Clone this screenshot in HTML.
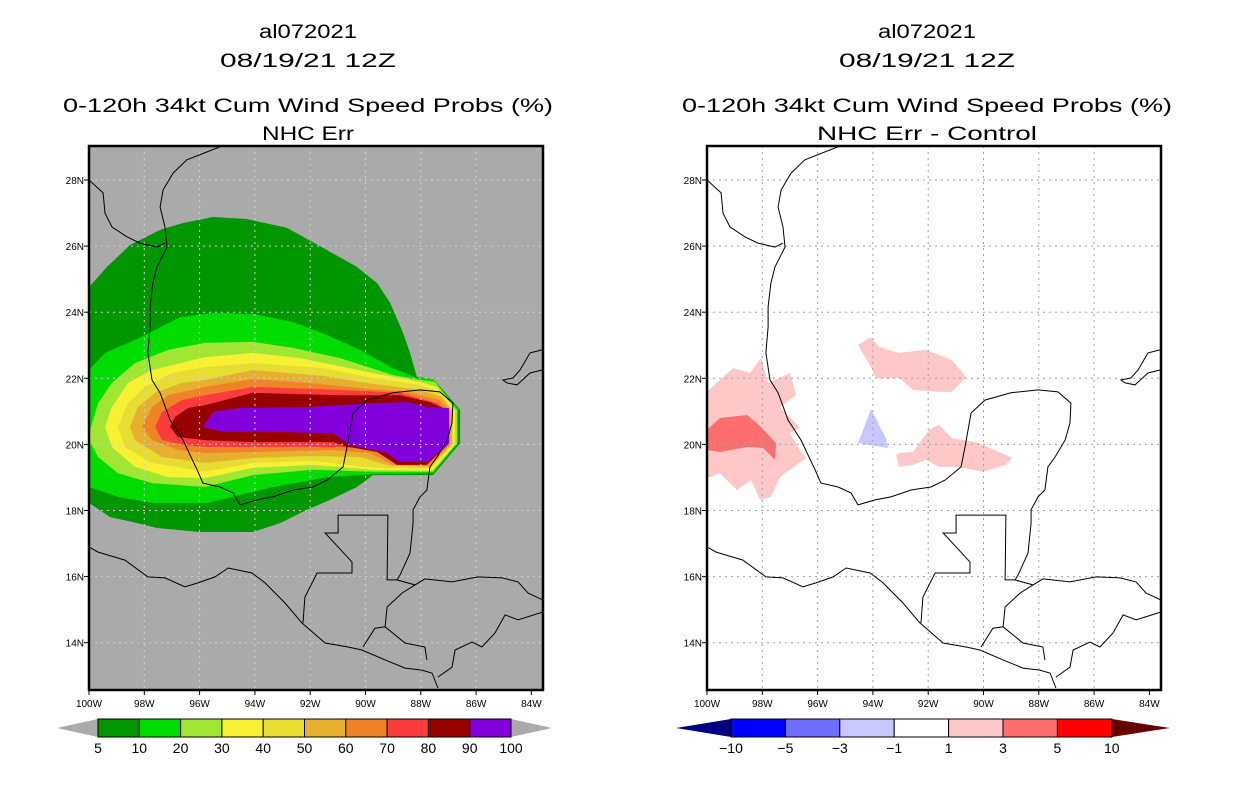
<!DOCTYPE html>
<html><head><meta charset="utf-8"><style>
html,body{margin:0;padding:0;background:#fff;}
svg{display:block;font-family:"Liberation Sans",sans-serif;}
</style></head><body>
<svg id="fig" width="1236" height="800" viewBox="0 0 1236 800" xmlns="http://www.w3.org/2000/svg"></svg>
<script>
// ---- data: probability contour polygons [degW, latN] ----
const probLevels = [5,10,20,30,40,50,60,70,80,90,100];
const probColors = ["#009600","#00dc00","#a0e632","#f8f032","#e6dc32","#e6af2d","#f08228","#fa3c3c","#960000","#8200dc"];
const L5=[[100,24.76],[99.35,25.37],[98.52,26.03],[97.43,26.49],[96.60,26.70],[95.52,26.88],[94.29,26.82],[92.84,26.55],[91.39,25.88],[90.31,25.37],[89.58,24.88],[89.11,24.28],[88.64,23.37],[88.39,22.77],[88.14,22.04],[87.56,21.98],[87.20,21.65],[86.58,21.04],[86.58,20.04],[87.56,19.07],[89.73,19.07],[90.31,18.71],[91.28,18.32],[92.12,18.02],[93.09,17.62],[94.07,17.35],[95.99,17.35],[97.54,17.47],[98.41,17.65],[99.24,17.80],[100,18.23]];
const L10=[[100,22.25],[99.42,22.77],[98.34,23.16],[96.71,23.85],[95.52,23.98],[94.07,23.95],[92.62,23.70],[91.39,23.31],[90.20,22.86],[89.01,22.31],[88.14,22.01],[87.56,21.98],[86.65,21.07],[86.65,20.04],[87.56,19.13],[89.73,19.10],[91.39,19.01],[93.35,18.71],[94.54,18.47],[95.73,18.23],[97.72,18.23],[98.95,18.41],[100,18.71]];
const L20=[[100,20.34],[99.67,21.25],[99.17,21.86],[98.34,22.46],[97.14,22.86],[95.80,23.07],[94.07,23.10],[92.62,22.92],[90.92,22.61],[89.01,22.10],[88.03,21.95],[87.49,21.89],[86.69,21.04],[86.69,20.04],[87.56,19.17],[89.73,19.17],[91.90,19.23],[94.07,19.07],[95.80,18.71],[97.72,18.83],[98.95,19.13],[99.67,19.62],[100,20.13]];
const L30=[[99.42,20.53],[99.17,21.13],[98.59,21.86],[97.72,22.25],[95.80,22.64],[94.07,22.77],[92.37,22.61],[89.73,22.16],[88.03,21.89],[87.41,21.74],[86.76,21.04],[86.76,20.01],[87.59,19.20],[89.73,19.23],[91.90,19.38],[94.07,19.29],[95.80,18.98],[97.14,19.01],[98.34,19.32],[99.17,19.92]];
const L40=[[98.95,20.53],[98.59,21.25],[97.97,21.74],[97.00,22.16],[95.80,22.34],[94.07,22.46],[91.54,22.31],[89.73,22.01],[88.03,21.80],[87.31,21.59],[86.84,21.04],[86.84,20.01],[87.63,19.26],[89.73,19.29],[91.90,19.50],[94.07,19.44],[95.80,19.17],[97.72,19.44],[98.70,19.92]];
const L50=[[98.52,20.53],[98.23,21.13],[97.61,21.56],[96.64,21.86],[95.80,21.95],[94.07,22.25],[91.54,22.07],[89.73,21.83],[88.03,21.65],[87.23,21.43],[86.87,21.01],[86.87,20.01],[87.67,19.32],[89.11,19.35],[90.20,19.62],[91.90,19.65],[94.07,19.59],[95.80,19.44],[97.36,19.62],[98.34,20.13]];
const L60=[[98.08,20.53],[97.72,21.13],[97.14,21.49],[95.80,21.74],[94.07,21.98],[92.12,21.86],[90.31,21.71],[88.50,21.59],[87.31,21.34],[86.94,20.98],[86.94,20.01],[87.70,19.35],[89.01,19.38],[89.84,19.74],[91.18,19.83],[94.07,19.77],[95.80,19.74],[96.78,19.83],[97.72,20.13]];
const L70=[[97.61,20.53],[97.36,20.98],[96.64,21.34],[95.80,21.49],[94.07,21.74],[90.92,21.65],[88.75,21.56],[87.41,21.25],[86.98,20.95],[86.98,20.01],[87.74,19.41],[88.86,19.41],[89.58,19.83],[90.92,19.92],[94.07,19.92],[95.80,19.92],[96.53,19.98],[97.36,20.13]];
const L80=[[97.07,20.53],[96.89,20.83],[96.42,21.10],[95.80,21.19],[94.07,21.56],[90.92,21.49],[88.75,21.49],[87.67,21.28],[87.05,21.04],[87.02,20.01],[87.78,19.38],[88.86,19.38],[89.58,19.77],[90.74,19.95],[91.18,20.07],[94.07,20.07],[95.80,20.13],[96.78,20.22]];
const L90=[[95.88,20.53],[95.52,20.98],[94.54,21.10],[92.12,21.13],[89.73,21.25],[88.50,21.28],[87.78,21.13],[86.98,21.10],[86.98,20.04],[87.78,19.47],[88.82,19.47],[89.22,19.74],[90.56,19.98],[91.18,20.34],[93.35,20.38],[95.15,20.38]];
const probPolys=[L5,L10,L20,L30,L40,L50,L60,L70,L80,L90];
// ---- difference panel ----
const diffLevels=["-10","-5","-3","-1","1","3","5","10"];
const diffColors=["#0000ff","#6e6eff","#c8c8ff","#ffffff","#ffc8c8","#ff6e6e","#ff0000"];
const diffPink1=[[100,21.59],[99.42,22.04],[99.06,22.31],[98.44,22.16],[98.05,22.61],[97.79,21.86],[97.00,22.16],[96.78,21.49],[97.36,21.13],[96.64,20.50],[97.00,20.34],[96.64,19.83],[96.42,19.59],[97.36,19.01],[97.69,18.41],[98.08,18.32],[98.41,18.92],[98.92,18.62],[99.53,19.13],[100,18.98]];
const diffRed1=[[100,20.44],[99.53,20.80],[98.55,20.89],[98.05,20.53],[97.50,20.04],[97.54,19.53],[97.97,19.89],[98.55,19.92],[99.53,19.77],[100,19.83]];
const diffPink2=[[94.54,23.01],[94.07,23.25],[93.78,22.95],[93.06,22.77],[92.08,22.86],[91.14,22.55],[90.63,22.04],[91.14,21.59],[91.61,21.59],[92.55,21.65],[93.06,22.01],[93.89,22.01],[94.07,22.34]];
const diffPink3=[[93.16,19.68],[93.06,19.74],[92.55,19.77],[91.97,20.44],[91.61,20.59],[91.14,20.19],[90.27,20.07],[89.44,19.77],[88.97,19.59],[89.19,19.38],[90.05,19.17],[90.89,19.32],[91.61,19.32],[92.08,19.53],[92.55,19.38],[93.06,19.32]];
const diffBlue1=[[94.07,21.07],[93.53,20.19],[93.45,19.89],[94.54,20.04]];
const diffShapes=[[diffPink1,4],[diffRed1,5],[diffPink2,4],[diffPink3,4],[diffBlue1,2]];
// ---- geography ----
const coast1=[[95.19,29.03],[96.46,28.61],[96.96,28.21],[97.32,27.70],[97.43,27.18],[97.25,26.58],[97.18,25.97],[97.54,25.37],[97.69,24.88],[97.79,24.16],[97.79,23.55],[97.87,22.77],[97.72,21.95],[97.43,21.56],[97.07,20.74],[96.60,20.13],[96.09,19.23],[95.88,18.83],[95.26,18.71],[94.79,18.53],[94.54,18.17],[93.92,18.32],[93.35,18.41],[92.62,18.62],[91.90,18.71],[91.39,18.92],[90.81,19.32],[90.67,19.92],[90.45,20.95],[89.95,21.34],[89.01,21.56],[88.03,21.65],[87.31,21.59],[86.84,21.25],[86.87,20.65],[87.05,20.13],[87.41,19.62],[87.67,19.32],[87.78,18.62],[88.03,18.41],[88.28,18.02],[88.28,17.62],[88.39,16.71],[88.75,16.05],[88.86,15.90],[88.21,15.75],[87.85,15.93],[86.87,15.84],[85.93,15.99],[85.06,15.96],[84.48,15.84],[84.12,15.50],[83.58,15.29]];
const rio=[[100,28],[99.49,27.61],[99.42,27.00],[99.17,26.58],[98.63,26.28],[98.16,26.09],[97.54,25.97],[97.25,26.09]];
const pac=[[100,16.90],[99.67,16.74],[98.70,16.50],[97.87,15.99],[97.25,15.96],[96.53,15.69],[96.06,15.81],[95.44,15.99],[94.97,16.26],[94.10,16.11],[93.63,15.81],[92.91,15.20],[92.30,14.60],[91.46,13.99],[90.63,13.87],[90.13,13.78],[89.29,13.48],[88.57,13.23],[87.96,13.17],[87.59,13.08],[87.38,12.63]];
const gtm=[[92.26,14.60],[92.19,15.38],[91.75,16.11],[90.49,16.11],[90.49,16.44],[90.99,16.90],[91.46,17.32],[90.99,17.32],[90.99,17.86],[89.19,17.86],[89.22,15.90],[88.86,15.90]];
const ghn=[[88.21,15.75],[88.68,15.50],[89.22,15.08],[89.29,14.48],[89.66,14.44],[90.09,13.87]];
const esh=[[89.29,14.48],[88.57,13.99],[87.85,13.87],[87.78,13.48]];
const hni=[[83.58,14.93],[84.48,14.69],[84.95,14.84],[85.32,14.29],[85.79,13.87],[86.15,14.02],[86.76,13.78],[86.87,13.26],[87.38,12.96]];
const cuba=[[83.62,22.86],[84.05,22.77],[84.41,22.25],[84.67,22.01],[85.03,21.95],[84.88,21.86],[84.52,21.80],[84.05,22.16],[83.62,22.25]];
const lines=[coast1,rio,pac,gtm,ghn,esh,hni,cuba];
const latTicks=[28,26,24,22,20,18,16,14];
const lonTicks=[100,98,96,94,92,90,88,86,84];

const NS="http://www.w3.org/2000/svg";
const svg=document.getElementById('fig');
function el(tag,attrs,parent){const e=document.createElementNS(NS,tag);for(const k in attrs)e.setAttribute(k,attrs[k]);(parent||svg).appendChild(e);return e;}
const PW=454,PT=146,PH=544;
function xOf(x0,w){return x0+(100-w)*27.65;}
function yOf(lat){return 180+(28-lat)*33.05;}
function pts(x0,arr){return arr.map(p=>xOf(x0,p[0]).toFixed(1)+","+yOf(p[1]).toFixed(1)).join(" ");}

function panel(x0,bg,gridCol,title2,id){
  const g=el('g',{});
  
  
  const cp=el('clipPath',{id:'cp'+id},g);
  el('rect',{x:x0,y:PT,width:PW,height:PH},cp);
  const bgr=el('rect',{x:x0,y:PT,width:PW,height:PH,fill:bg},g);
  
  
  const inner=el('g',{'clip-path':'url(#cp'+id+')'},g);
  return {g,inner};
}
function grid(x0,inner,col,id){
  lonTicks.slice(1,-1).forEach(w=>{const l=el('line',{x1:xOf(x0,w),x2:xOf(x0,w),y1:PT,y2:PT+PH,stroke:col,'stroke-width':1,'stroke-dasharray':'2,4'},inner);
    });
  latTicks.forEach(t=>{const l=el('line',{x1:x0,x2:x0+PW,y1:yOf(t),y2:yOf(t),stroke:col,'stroke-width':1,'stroke-dasharray':'2,4'},inner);
    });
}
function geo(x0,inner){
  lines.forEach(a=>{const p=el('polyline',{points:pts(x0,a),fill:'none',stroke:'#000','stroke-width':1},inner);
    });
}
function axes(x0,g){
  const f=el('rect',{x:x0,y:PT,width:PW,height:PH,fill:'none',stroke:'#000','stroke-width':2.5},g);
  
  latTicks.forEach(t=>{el('line',{x1:x0-5,x2:x0,y1:yOf(t),y2:yOf(t),stroke:'#000'},g);
    const tx=el('text',{x:x0-5,y:yOf(t)+4,'font-size':10,'text-anchor':'end',fill:'#000'},g);tx.textContent=t+'N';
    });
  lonTicks.forEach(w=>{el('line',{x1:xOf(x0,w),x2:xOf(x0,w),y1:PT+PH,y2:PT+PH+5,stroke:'#000'},g);
    const tx=el('text',{x:xOf(x0,w),y:PT+PH+17,'font-size':10,'text-anchor':'middle',fill:'#000'},g);tx.textContent=w+'W';
    });
}
function titles(cx,sub,subLen){
  const T=[["al072021",38,98],["08/19/21 12Z",67,176],["0-120h 34kt Cum Wind Speed Probs (%)",112,490],[sub,140,subLen]];
  T.forEach((t,i)=>{const e=el('text',{x:cx,y:t[1],'font-size':19,'text-anchor':'middle',textLength:t[2],lengthAdjust:'spacingAndGlyphs',fill:'#000'});e.textContent=t[0];
    });
}

// Left panel
const A=panel(89,'#aaaaaa','#d4d4d4','L','prob');
probPolys.forEach((poly,i)=>{const p=el('polygon',{points:pts(89,poly),fill:probColors[i]},A.inner);
  });
grid(89,A.inner,'#d0d0d0','L');geo(89,A.inner);axes(89,A.g);
titles(308,"NHC Err",92);

// Right panel
const B=panel(707,'#ffffff','#a0a0a0','R','diff');
diffShapes.forEach(s=>{const p=el('polygon',{points:pts(707,s[0]),fill:diffColors[s[1]]},B.inner);
  });
grid(707,B.inner,'#a0a0a0','R');geo(707,B.inner);axes(707,B.g);
titles(927,"NHC Err - Control",220);

// Left colorbar
(function(){
  const x0=98,bw=41.3,y0=719,h=18;
  const cb=el('g',{});
  el('polygon',{points:`57,${y0+h/2} ${x0},${y0} ${x0},${y0+h}`,fill:'#aaaaaa'},cb);
  const xe=x0+bw*probColors.length;
  el('polygon',{points:`${xe+41},${y0+h/2} ${xe},${y0} ${xe},${y0+h}`,fill:'#aaaaaa'},cb);
  probColors.forEach((c,i)=>{const r=el('rect',{x:x0+i*bw,y:y0,width:bw,height:h,fill:c,stroke:'#000','stroke-width':1},cb);
    });
  probLevels.forEach((v,i)=>{const t=el('text',{x:x0+i*bw,y:753,'font-size':14,'text-anchor':'middle',fill:'#000'},cb);t.textContent=v;
    });
})();
// Right colorbar
(function(){
  const x0=731,bw=54.4,y0=719,h=18;
  const cb=el('g',{});
  el('polygon',{points:`676,${y0+h/2} ${x0},${y0} ${x0},${y0+h}`,fill:'#000080'},cb);
  const xe=x0+bw*diffColors.length;
  el('polygon',{points:`1170,${y0+h/2} ${xe},${y0} ${xe},${y0+h}`,fill:'#640000'},cb);
  diffColors.forEach((c,i)=>{const r=el('rect',{x:x0+i*bw,y:y0,width:bw,height:h,fill:c,stroke:'#000','stroke-width':1},cb);
    });
  diffLevels.forEach((v,i)=>{const t=el('text',{x:x0+i*bw,y:753,'font-size':14,'text-anchor':'middle',fill:'#000'},cb);t.textContent=v.replace('-','\u2212');
    });
})();
</script>
</body></html>
